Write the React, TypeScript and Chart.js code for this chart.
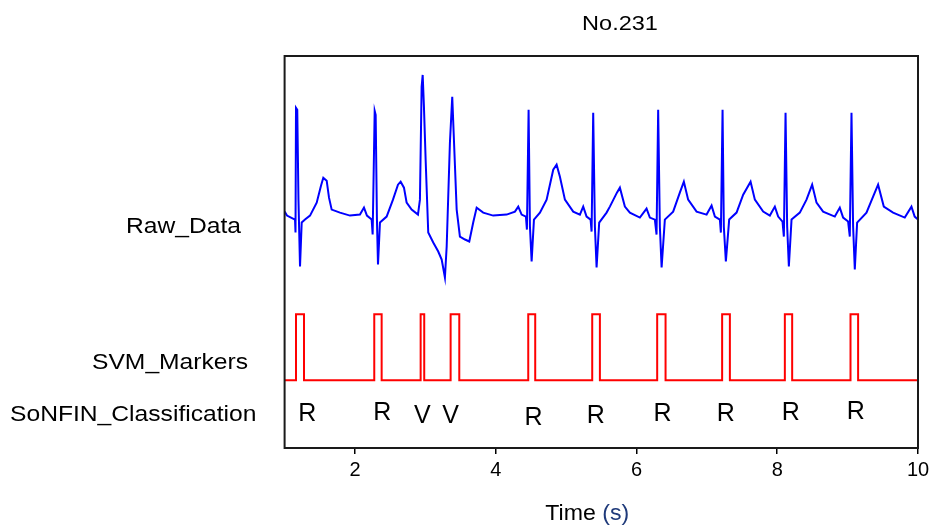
import React, { useEffect, useRef } from "react";
import { Chart, registerables } from "chart.js";

Chart.register(...registerables);

// ---- data (time in s, amplitude in mV relative to the Raw_Data baseline) ----
const ecgTime = [
  1.000, 1.034, 1.091, 1.148, 1.155, 1.162, 1.180, 1.197, 1.219, 1.243,
  1.290, 1.361, 1.456, 1.517, 1.550, 1.598, 1.631, 1.669, 1.787, 1.929,
  2.071, 2.128, 2.170, 2.237, 2.251, 2.280, 2.294, 2.312, 2.327, 2.355,
  2.450, 2.540, 2.611, 2.649, 2.696, 2.734, 2.805, 2.895, 2.923, 2.947,
  2.962, 2.980, 3.004, 3.041, 3.112, 3.183, 3.232, 3.278, 3.303, 3.349,
  3.382, 3.406, 3.445, 3.491, 3.563, 3.624, 3.680, 3.729, 3.822, 3.964,
  4.155, 4.273, 4.320, 4.368, 4.429, 4.443, 4.467, 4.486, 4.510, 4.543,
  4.628, 4.723, 4.817, 4.865, 4.912, 4.983, 5.101, 5.196, 5.243, 5.291,
  5.348, 5.362, 5.385, 5.409, 5.433, 5.470, 5.575, 5.622, 5.722, 5.764,
  5.835, 5.906, 6.048, 6.143, 6.190, 6.261, 6.285, 6.308, 6.332, 6.357,
  6.403, 6.521, 6.616, 6.673, 6.734, 6.854, 6.996, 7.067, 7.114, 7.185,
  7.199, 7.223, 7.241, 7.270, 7.317, 7.422, 7.516, 7.621, 7.682, 7.800,
  7.895, 7.966, 8.013, 8.075, 8.094, 8.118, 8.141, 8.165, 8.203, 8.321,
  8.416, 8.496, 8.558, 8.652, 8.818, 8.889, 8.936, 9.007, 9.031, 9.055,
  9.078, 9.102, 9.135, 9.268, 9.362, 9.433, 9.514, 9.646, 9.812, 9.907,
  9.953, 10.000,
];
const ecgValue = [
  0.00, -0.04, -0.06, -0.08, -0.21, 1.04, 1.02, 0.12, -0.55, -0.11,
  -0.08, -0.04, 0.09, 0.26, 0.34, 0.31, 0.14, 0.02, -0.01, -0.04,
  -0.03, 0.04, -0.04, -0.08, -0.23, 1.01, 0.97, -0.08, -0.53, -0.11,
  -0.05, 0.12, 0.27, 0.30, 0.24, 0.09, 0.02, -0.03, 0.12, 1.25,
  1.37, 1.05, 0.52, -0.21, -0.31, -0.40, -0.48, -0.66, -0.35, 0.69,
  1.15, 0.72, 0.02, -0.25, -0.28, -0.30, -0.11, 0.04, -0.01, -0.04,
  -0.03, 0.00, 0.05, -0.03, -0.05, -0.18, 1.02, -0.15, -0.50, -0.08,
  -0.01, 0.12, 0.42, 0.47, 0.35, 0.12, 0.00, -0.03, 0.05, -0.05,
  -0.08, -0.20, 0.99, -0.15, -0.56, -0.11, -0.01, 0.05, 0.19, 0.24,
  0.05, -0.01, -0.06, 0.03, -0.06, -0.08, -0.23, 1.02, -0.15, -0.56,
  -0.08, 0.00, 0.19, 0.30, 0.12, 0.00, -0.03, 0.06, -0.05, -0.08,
  -0.21, 1.02, -0.15, -0.50, -0.08, -0.01, 0.17, 0.30, 0.12, 0.00,
  -0.04, 0.05, -0.05, -0.10, -0.25, 0.99, -0.15, -0.55, -0.08, -0.01,
  0.12, 0.27, 0.09, 0.00, -0.05, 0.04, -0.06, -0.10, -0.25, 0.99,
  -0.15, -0.58, -0.11, -0.01, 0.15, 0.27, 0.05, -0.01, -0.06, 0.05,
  -0.05, -0.08,
];

const markerRise = [1.162, 2.274, 2.933, 3.359, 4.462, 5.371, 6.294, 7.217, 8.108, 9.041];
const markerFall = [1.276, 2.379, 2.984, 3.482, 4.561, 5.480, 6.413, 7.327, 8.212, 9.149];
const MARKER_LOW = -1.69;
const MARKER_HIGH = -1.03;

const classLabels = ["R", "R", "V", "V", "R", "R", "R", "R", "R", "R"];
const classTime = [1.322, 2.388, 2.956, 3.359, 4.538, 5.423, 6.371, 7.270, 8.193, 9.116];
const classLevel = [-2.10, -2.09, -2.12, -2.12, -2.14, -2.12, -2.10, -2.10, -2.09, -2.08];

const xTicks = [2, 4, 6, 8, 10];
const X_MIN = 1;
const X_MAX = 10;
const Y_MIN = -2.37;
const Y_MAX = 1.56;

const rowLabels = ["Raw_Data", "SVM_Markers", "SoNFIN_Classification"];
const rowLevel = [-0.21, -1.58, -2.10];
const rowLabelX = [126, 92, 10];

const chartTitle = "No.231";
const axisTitleMain = "Time ";
const axisTitleUnit = "(s)";

const FONT = '"Liberation Sans", Arial, Helvetica, sans-serif';

function drawText(
  ctx: CanvasRenderingContext2D,
  text: string,
  x: number,
  y: number,
  size: number,
  sx: number,
  align: CanvasTextAlign,
  color: string
) {
  ctx.save();
  ctx.translate(x, y);
  ctx.scale(sx, 1);
  ctx.font = `${size}px ${FONT}`;
  ctx.textAlign = align;
  ctx.textBaseline = "alphabetic";
  ctx.fillStyle = color;
  ctx.fillText(text, 0, 0);
  ctx.restore();
}

const overlayPlugin = {
  id: "overlay",
  afterDraw(chart: any) {
    const { ctx, chartArea, scales } = chart;
    const xs = scales.x;
    const ys = scales.y;
    ctx.save();
    // frame
    ctx.strokeStyle = "#1a1a1a";
    ctx.lineWidth = 2;
    ctx.strokeRect(
      chartArea.left,
      chartArea.top,
      chartArea.right - chartArea.left,
      chartArea.bottom - chartArea.top
    );
    // classification letters
    classLabels.forEach((l, i) => {
      drawText(ctx, l, xs.getPixelForValue(classTime[i]), ys.getPixelForValue(classLevel[i]), 25, 1, "center", "#000");
    });
    // row labels
    rowLabels.forEach((l, i) => {
      drawText(ctx, l, rowLabelX[i], ys.getPixelForValue(rowLevel[i]), 22, 1.12, "left", "#000");
    });
    // chart title
    drawText(ctx, chartTitle, 620, 30, 21, 1.12, "center", "#000");
    // axis title
    ctx.font = `22px ${FONT}`;
    const sx = 1.05;
    const w1 = ctx.measureText(axisTitleMain).width * sx;
    const w2 = ctx.measureText(axisTitleUnit).width * sx;
    const cx = xs.getPixelForValue(5.3);
    const startX = cx - (w1 + w2) / 2;
    drawText(ctx, axisTitleMain, startX, 520, 22, sx, "left", "#000");
    drawText(ctx, axisTitleUnit, startX + w1, 520, 22, sx, "left", "#1f3a7a");
    ctx.restore();
  },
};

export default function App() {
  const canvasRef = useRef<HTMLCanvasElement | null>(null);

  useEffect(() => {
    const canvas = canvasRef.current;
    if (!canvas) return;

    const ecgData = ecgTime.map((t, i) => ({ x: t, y: ecgValue[i] }));
    const markerData: { x: number; y: number }[] = [{ x: X_MIN, y: MARKER_LOW }];
    markerRise.forEach((r, i) => {
      markerData.push({ x: r, y: MARKER_LOW });
      markerData.push({ x: r, y: MARKER_HIGH });
      markerData.push({ x: markerFall[i], y: MARKER_HIGH });
      markerData.push({ x: markerFall[i], y: MARKER_LOW });
    });
    markerData.push({ x: X_MAX, y: MARKER_LOW });

    const chart = new Chart(canvas, {
      type: "line",
      data: {
        datasets: [
          {
            label: "Raw_Data",
            data: ecgData,
            borderColor: "#0000ff",
            borderWidth: 2,
            pointRadius: 0,
            tension: 0,
            fill: false,
          },
          {
            label: "SVM_Markers",
            data: markerData,
            borderColor: "#ff0000",
            borderWidth: 2,
            pointRadius: 0,
            tension: 0,
            fill: false,
          },
        ],
      },
      options: {
        responsive: false,
        animation: false,
        events: [],
        layout: { padding: { left: 284.6, right: 13, top: 56, bottom: 0 } },
        plugins: {
          legend: { display: false },
          tooltip: { enabled: false },
          title: { display: false },
        },
        scales: {
          x: {
            type: "linear",
            min: X_MIN,
            max: X_MAX,
            afterFit: (s: any) => {
              s.height = 78;
              s.paddingLeft = 0;
              s.paddingRight = 0;
            },
            afterBuildTicks: (s: any) => {
              s.ticks = xTicks.map((v) => ({ value: v }));
            },
            grid: {
              display: true,
              drawOnChartArea: false,
              drawTicks: true,
              tickLength: 6,
              color: "#000",
              lineWidth: 1.5,
            },
            border: { display: true, color: "#1a1a1a", width: 2 },
            ticks: {
              color: "#000",
              font: { family: FONT, size: 20 },
              padding: 4,
              maxRotation: 0,
              autoSkip: false,
            },
          },
          y: {
            type: "linear",
            display: false,
            min: Y_MIN,
            max: Y_MAX,
          },
        },
      },
      plugins: [overlayPlugin],
    });

    return () => chart.destroy();
  }, []);

  return (
    <div style={{ position: "fixed", left: 0, top: 0, width: 931, height: 526, background: "#fff" }}>
      <canvas ref={canvasRef} width={931} height={526} style={{ display: "block" }} />
    </div>
  );
}
